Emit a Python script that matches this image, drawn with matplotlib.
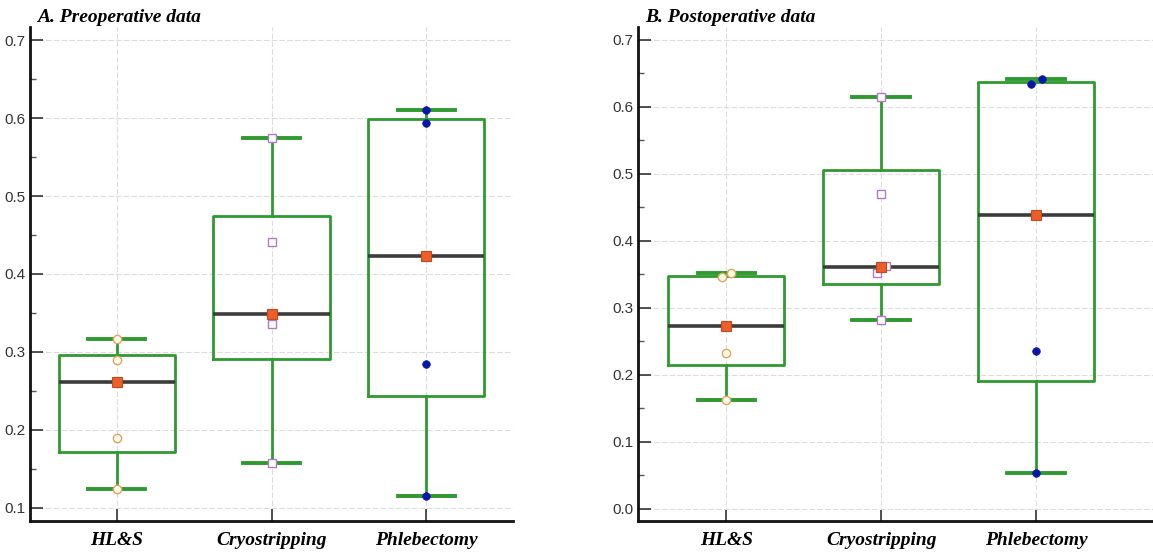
import matplotlib.pyplot as plt

groups = ['HL&S', 'Cryostripping', 'Phlebectomy']

# preoperative box stats
pre_lo = [0.124, 0.158, 0.115]
pre_q1 = [0.172, 0.291, 0.244]
pre_med = [0.262, 0.348, 0.4235]
pre_q3 = [0.296, 0.475, 0.599]
pre_hi = [0.316, 0.575, 0.611]
pre_hls = [0.316, 0.289, 0.19, 0.124]
pre_cryo = [0.575, 0.441, 0.336, 0.158]
pre_phleb = [0.611, 0.594, 0.285, 0.115]

# postoperative box stats
post_lo = [0.162, 0.281, 0.053]
post_q1 = [0.214, 0.336, 0.19]
post_med = [0.273, 0.361, 0.438]
post_q3 = [0.347, 0.506, 0.637]
post_hi = [0.352, 0.615, 0.641]
post_hls = [0.352, 0.345, 0.232, 0.162]
post_cryo = [0.615, 0.469, 0.362, 0.352, 0.281]
post_phleb = [0.641, 0.634, 0.235, 0.053]

# small horizontal shifts where points overlap
pre_shift = [[0, 0, 0, 0], [0, 0, 0, 0], [0, 0, 0, 0]]
post_shift = [[0.03, -0.03, 0, 0], [0, 0, 0.03, -0.03, 0], [0.04, -0.03, 0, 0]]

point_styles = [
    dict(marker='o', mfc='#fff8e4', mec='#d9a866', ms=6, mew=1.0),
    dict(marker='s', mfc='white', mec='#b07cc0', ms=6, mew=1.0),
    dict(marker='o', mfc='#0b16a8', mec='#0b16a8', ms=5.5, mew=0.5),
]

GREEN = '#2f9a2f'
SERIF = ['Liberation Serif', 'DejaVu Serif']
NARROW = ['Liberation Sans Narrow', 'Liberation Sans', 'DejaVu Sans']


def panel(ax, lo, q1, med, q3, hi, pts, shifts, title, ylim, yticks):
    stats = []
    for i in range(len(groups)):
        stats.append({'whislo': lo[i], 'q1': q1[i], 'med': med[i],
                      'q3': q3[i], 'whishi': hi[i], 'fliers': []})
    ax.bxp(stats, positions=[1, 2, 3], widths=0.75, showfliers=False,
           boxprops=dict(color=GREEN, linewidth=2),
           whiskerprops=dict(color=GREEN, linewidth=2),
           capprops=dict(color=GREEN, linewidth=2.8),
           medianprops=dict(color='#3c3c3c', linewidth=2.6),
           capwidths=0.37)
    for i, vals in enumerate(pts):
        xs = [i + 1 + s for s in shifts[i]]
        ax.plot(xs, vals, linestyle='none', zorder=4, **point_styles[i])
        ax.plot([i + 1], [med[i]], linestyle='none', marker='s', ms=7,
                mfc='#ea5f2a', mec='#c8481a', mew=0.8, zorder=5)

    ax.set_xlim(*ax_xlim[title[0]])
    ax.set_ylim(*ylim)
    ax.set_yticks(yticks)
    ax.set_yticklabels(['%.1f' % t for t in yticks], family=NARROW,
                       fontsize=11, color='#333333')
    ax.set_yticks([t + 0.05 for t in yticks[:-1]], minor=True)
    ax.set_xticks([1, 2, 3])
    ax.set_xticklabels(groups, family=SERIF, fontsize=14,
                       fontweight='bold', fontstyle='italic')
    ax.tick_params(axis='both', which='major', direction='in', length=9,
                   width=1.2, color='#333333')
    ax.tick_params(axis='y', which='minor', direction='in', length=4,
                   width=1.0, color='#555555')
    ax.tick_params(axis='x', pad=8)
    ax.tick_params(axis='y', pad=3)
    ax.grid(True, color='#dddddd', linewidth=0.8, linestyle=(0, (5, 2)))
    ax.set_axisbelow(True)
    for s in ['top', 'right']:
        ax.spines[s].set_visible(False)
    for s in ['left', 'bottom']:
        ax.spines[s].set_linewidth(2)
        ax.spines[s].set_color('#111111')
    ax.text(0.015, 1.002, title, transform=ax.transAxes, family=SERIF,
            fontsize=14, fontweight='bold', fontstyle='italic',
            ha='left', va='bottom')


ax_xlim = {'A': (0.44, 3.56), 'B': (0.43, 3.755)}

fig = plt.figure(figsize=(11.53, 5.54), dpi=100)
ax1 = fig.add_axes([0.026, 0.0596, 0.419, 0.8917])
ax2 = fig.add_axes([0.5533, 0.0596, 0.4467, 0.8917])

panel(ax1, pre_lo, pre_q1, pre_med, pre_q3, pre_hi,
      [pre_hls, pre_cryo, pre_phleb], pre_shift, 'A. Preoperative data',
      (0.083, 0.717), [0.1, 0.2, 0.3, 0.4, 0.5, 0.6, 0.7])
panel(ax2, post_lo, post_q1, post_med, post_q3, post_hi,
      [post_hls, post_cryo, post_phleb], post_shift, 'B. Postoperative data',
      (-0.0185, 0.719), [0.0, 0.1, 0.2, 0.3, 0.4, 0.5, 0.6, 0.7])

fig.savefig('out.png', dpi=100)
